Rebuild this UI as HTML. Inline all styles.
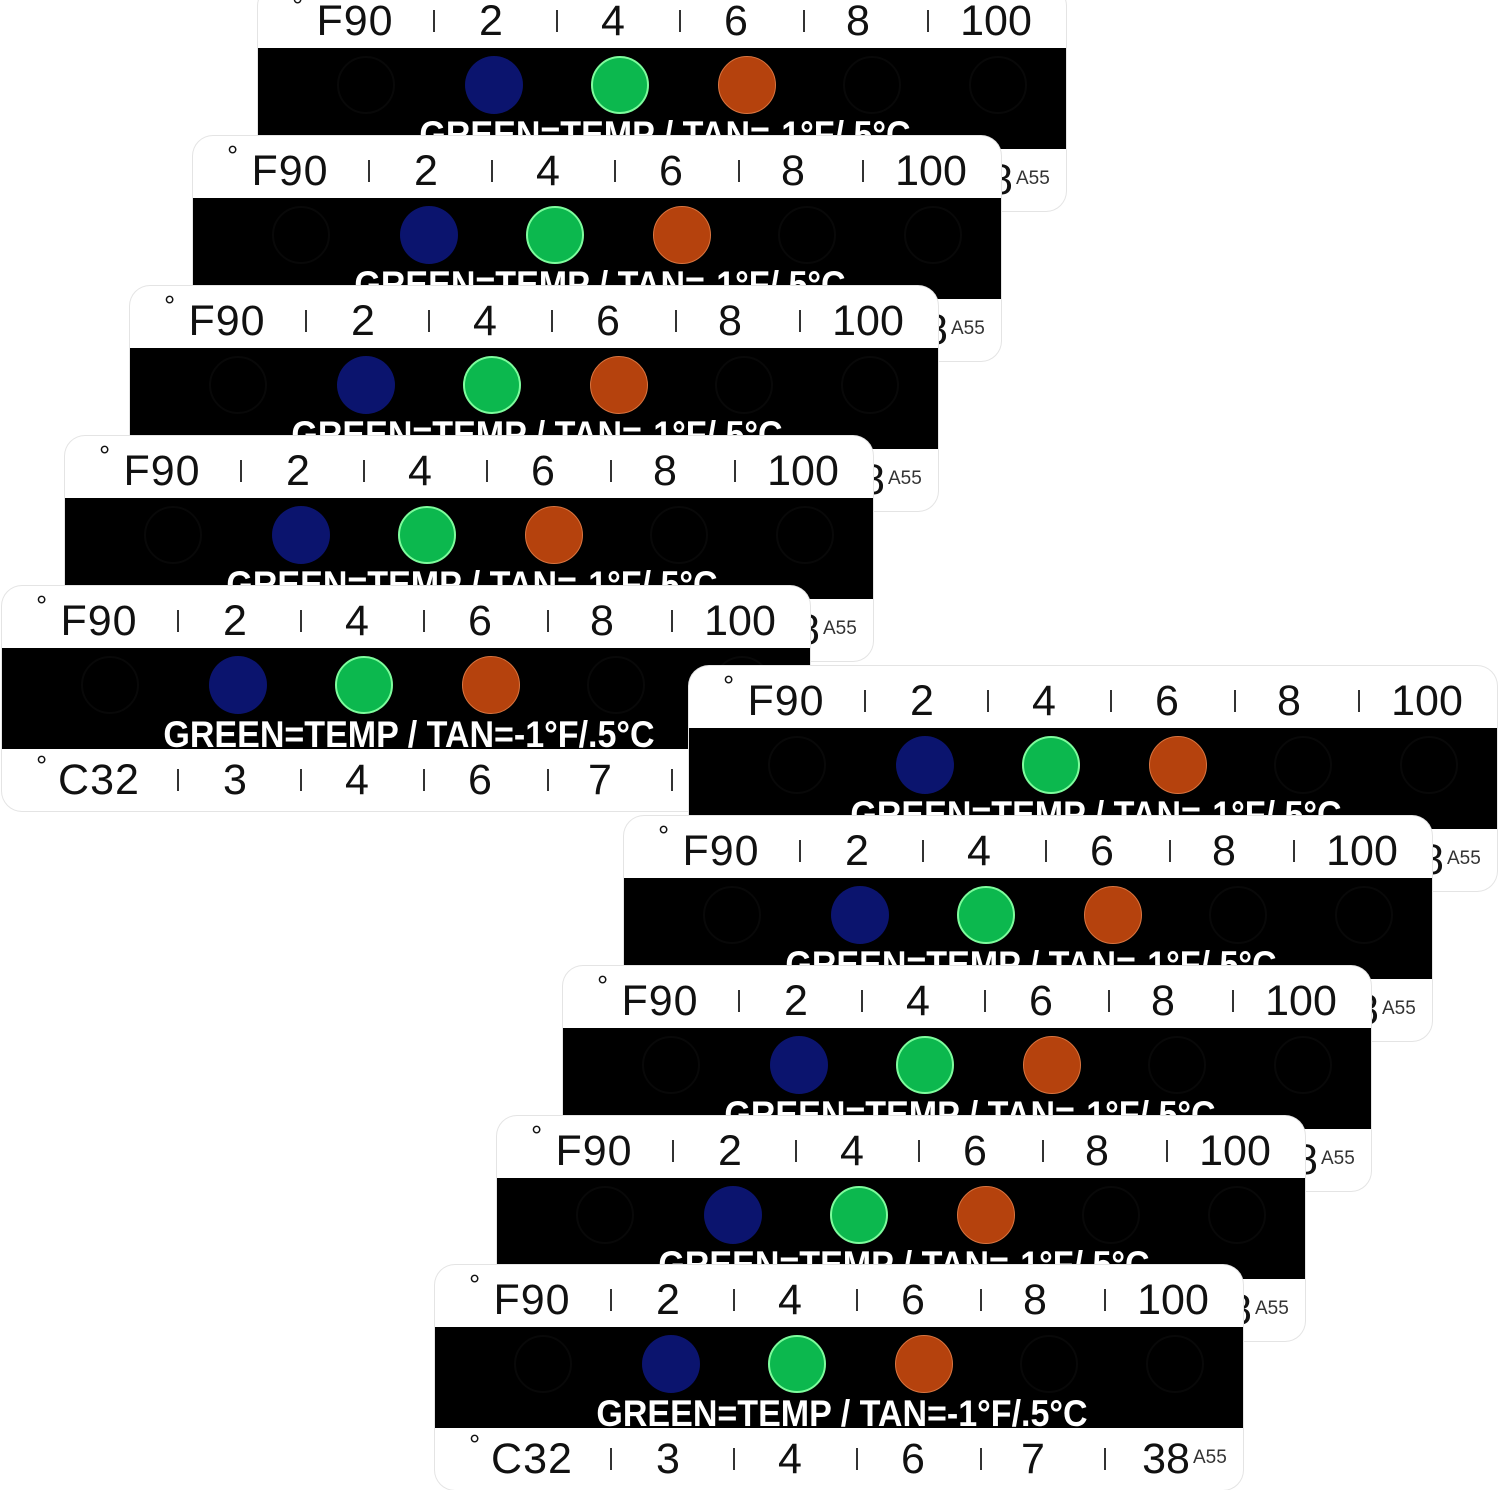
<!DOCTYPE html>
<html><head><meta charset="utf-8">
<style>
html,body{margin:0;padding:0;background:#fff;}
body{width:1500px;height:1490px;position:relative;overflow:hidden;font-family:"Liberation Sans",sans-serif;}
.card{position:absolute;width:808px;height:225px;background:#fff;border-radius:20px;box-shadow:0 0 0 1px #e4e4e4;overflow:hidden;}
.blk{position:absolute;left:0;top:62px;width:808px;height:101px;background:#000;}
.l{position:absolute;font-size:43px;color:#111;line-height:43px;transform:translateX(-50%);white-space:nowrap;}
.t{top:14px}.b{top:173px}
.w{letter-spacing:1px}
.deg{position:absolute;font-size:28px;color:#111;line-height:28px;}
.tick{position:absolute;width:2px;height:22px;background:#333;}
.c{position:absolute;width:58px;height:58px;border-radius:50%;top:8px;transform:translateX(-50%);box-sizing:border-box;}
.d{border:2px solid #080808;}
.bl{background:#0b146e;}
.gr{background:#0cb84e;border:2px solid #7dfc9c;}
.or{background:#b5420d;border:1px solid #d9743f;}
.msg{position:absolute;left:407px;top:68px;white-space:nowrap;color:#fff;font-weight:bold;font-size:37px;line-height:37px;transform:translateX(-50%) scaleX(0.92);}
.a55{position:absolute;left:758px;top:182px;font-size:19px;color:#333;}
</style></head><body>

<div class="card" style="left:258px;top:-14px">
<div class="deg" style="left:34px;top:6px">°</div><div class="l t w" style="left:97px">F90</div>
<div class="tick" style="left:175px;top:24px"></div><div class="l t" style="left:233px">2</div>
<div class="tick" style="left:298px;top:24px"></div><div class="l t" style="left:355px">4</div>
<div class="tick" style="left:421px;top:24px"></div><div class="l t" style="left:478px">6</div>
<div class="tick" style="left:545px;top:24px"></div><div class="l t" style="left:600px">8</div>
<div class="tick" style="left:669px;top:24px"></div><div class="l t" style="left:738px">100</div>
<div class="blk"><div class="c d" style="left:108px"></div><div class="c bl" style="left:236px"></div><div class="c gr" style="left:362px"></div><div class="c or" style="left:489px"></div><div class="c d" style="left:614px"></div><div class="c d" style="left:740px"></div><div class="msg">GREEN=TEMP / TAN=-1°F/.5°C</div></div>
<div class="deg" style="left:34px;top:166px">°</div><div class="l b w" style="left:97px">C32</div>
<div class="tick" style="left:175px;top:183px"></div><div class="l b" style="left:233px">3</div>
<div class="tick" style="left:298px;top:183px"></div><div class="l b" style="left:355px">4</div>
<div class="tick" style="left:421px;top:183px"></div><div class="l b" style="left:478px">6</div>
<div class="tick" style="left:545px;top:183px"></div><div class="l b" style="left:598px">7</div>
<div class="tick" style="left:669px;top:183px"></div><div class="l b" style="left:731px">38</div><div class="a55">A55</div>
</div>

<div class="card" style="left:193px;top:136px">
<div class="deg" style="left:34px;top:6px">°</div><div class="l t w" style="left:97px">F90</div>
<div class="tick" style="left:175px;top:24px"></div><div class="l t" style="left:233px">2</div>
<div class="tick" style="left:298px;top:24px"></div><div class="l t" style="left:355px">4</div>
<div class="tick" style="left:421px;top:24px"></div><div class="l t" style="left:478px">6</div>
<div class="tick" style="left:545px;top:24px"></div><div class="l t" style="left:600px">8</div>
<div class="tick" style="left:669px;top:24px"></div><div class="l t" style="left:738px">100</div>
<div class="blk"><div class="c d" style="left:108px"></div><div class="c bl" style="left:236px"></div><div class="c gr" style="left:362px"></div><div class="c or" style="left:489px"></div><div class="c d" style="left:614px"></div><div class="c d" style="left:740px"></div><div class="msg">GREEN=TEMP / TAN=-1°F/.5°C</div></div>
<div class="deg" style="left:34px;top:166px">°</div><div class="l b w" style="left:97px">C32</div>
<div class="tick" style="left:175px;top:183px"></div><div class="l b" style="left:233px">3</div>
<div class="tick" style="left:298px;top:183px"></div><div class="l b" style="left:355px">4</div>
<div class="tick" style="left:421px;top:183px"></div><div class="l b" style="left:478px">6</div>
<div class="tick" style="left:545px;top:183px"></div><div class="l b" style="left:598px">7</div>
<div class="tick" style="left:669px;top:183px"></div><div class="l b" style="left:731px">38</div><div class="a55">A55</div>
</div>

<div class="card" style="left:130px;top:286px">
<div class="deg" style="left:34px;top:6px">°</div><div class="l t w" style="left:97px">F90</div>
<div class="tick" style="left:175px;top:24px"></div><div class="l t" style="left:233px">2</div>
<div class="tick" style="left:298px;top:24px"></div><div class="l t" style="left:355px">4</div>
<div class="tick" style="left:421px;top:24px"></div><div class="l t" style="left:478px">6</div>
<div class="tick" style="left:545px;top:24px"></div><div class="l t" style="left:600px">8</div>
<div class="tick" style="left:669px;top:24px"></div><div class="l t" style="left:738px">100</div>
<div class="blk"><div class="c d" style="left:108px"></div><div class="c bl" style="left:236px"></div><div class="c gr" style="left:362px"></div><div class="c or" style="left:489px"></div><div class="c d" style="left:614px"></div><div class="c d" style="left:740px"></div><div class="msg">GREEN=TEMP / TAN=-1°F/.5°C</div></div>
<div class="deg" style="left:34px;top:166px">°</div><div class="l b w" style="left:97px">C32</div>
<div class="tick" style="left:175px;top:183px"></div><div class="l b" style="left:233px">3</div>
<div class="tick" style="left:298px;top:183px"></div><div class="l b" style="left:355px">4</div>
<div class="tick" style="left:421px;top:183px"></div><div class="l b" style="left:478px">6</div>
<div class="tick" style="left:545px;top:183px"></div><div class="l b" style="left:598px">7</div>
<div class="tick" style="left:669px;top:183px"></div><div class="l b" style="left:731px">38</div><div class="a55">A55</div>
</div>

<div class="card" style="left:65px;top:436px">
<div class="deg" style="left:34px;top:6px">°</div><div class="l t w" style="left:97px">F90</div>
<div class="tick" style="left:175px;top:24px"></div><div class="l t" style="left:233px">2</div>
<div class="tick" style="left:298px;top:24px"></div><div class="l t" style="left:355px">4</div>
<div class="tick" style="left:421px;top:24px"></div><div class="l t" style="left:478px">6</div>
<div class="tick" style="left:545px;top:24px"></div><div class="l t" style="left:600px">8</div>
<div class="tick" style="left:669px;top:24px"></div><div class="l t" style="left:738px">100</div>
<div class="blk"><div class="c d" style="left:108px"></div><div class="c bl" style="left:236px"></div><div class="c gr" style="left:362px"></div><div class="c or" style="left:489px"></div><div class="c d" style="left:614px"></div><div class="c d" style="left:740px"></div><div class="msg">GREEN=TEMP / TAN=-1°F/.5°C</div></div>
<div class="deg" style="left:34px;top:166px">°</div><div class="l b w" style="left:97px">C32</div>
<div class="tick" style="left:175px;top:183px"></div><div class="l b" style="left:233px">3</div>
<div class="tick" style="left:298px;top:183px"></div><div class="l b" style="left:355px">4</div>
<div class="tick" style="left:421px;top:183px"></div><div class="l b" style="left:478px">6</div>
<div class="tick" style="left:545px;top:183px"></div><div class="l b" style="left:598px">7</div>
<div class="tick" style="left:669px;top:183px"></div><div class="l b" style="left:731px">38</div><div class="a55">A55</div>
</div>

<div class="card" style="left:2px;top:586px">
<div class="deg" style="left:34px;top:6px">°</div><div class="l t w" style="left:97px">F90</div>
<div class="tick" style="left:175px;top:24px"></div><div class="l t" style="left:233px">2</div>
<div class="tick" style="left:298px;top:24px"></div><div class="l t" style="left:355px">4</div>
<div class="tick" style="left:421px;top:24px"></div><div class="l t" style="left:478px">6</div>
<div class="tick" style="left:545px;top:24px"></div><div class="l t" style="left:600px">8</div>
<div class="tick" style="left:669px;top:24px"></div><div class="l t" style="left:738px">100</div>
<div class="blk"><div class="c d" style="left:108px"></div><div class="c bl" style="left:236px"></div><div class="c gr" style="left:362px"></div><div class="c or" style="left:489px"></div><div class="c d" style="left:614px"></div><div class="c d" style="left:740px"></div><div class="msg">GREEN=TEMP / TAN=-1°F/.5°C</div></div>
<div class="deg" style="left:34px;top:166px">°</div><div class="l b w" style="left:97px">C32</div>
<div class="tick" style="left:175px;top:183px"></div><div class="l b" style="left:233px">3</div>
<div class="tick" style="left:298px;top:183px"></div><div class="l b" style="left:355px">4</div>
<div class="tick" style="left:421px;top:183px"></div><div class="l b" style="left:478px">6</div>
<div class="tick" style="left:545px;top:183px"></div><div class="l b" style="left:598px">7</div>
<div class="tick" style="left:669px;top:183px"></div><div class="l b" style="left:731px">38</div><div class="a55">A55</div>
</div>

<div class="card" style="left:689px;top:666px">
<div class="deg" style="left:34px;top:6px">°</div><div class="l t w" style="left:97px">F90</div>
<div class="tick" style="left:175px;top:24px"></div><div class="l t" style="left:233px">2</div>
<div class="tick" style="left:298px;top:24px"></div><div class="l t" style="left:355px">4</div>
<div class="tick" style="left:421px;top:24px"></div><div class="l t" style="left:478px">6</div>
<div class="tick" style="left:545px;top:24px"></div><div class="l t" style="left:600px">8</div>
<div class="tick" style="left:669px;top:24px"></div><div class="l t" style="left:738px">100</div>
<div class="blk"><div class="c d" style="left:108px"></div><div class="c bl" style="left:236px"></div><div class="c gr" style="left:362px"></div><div class="c or" style="left:489px"></div><div class="c d" style="left:614px"></div><div class="c d" style="left:740px"></div><div class="msg">GREEN=TEMP / TAN=-1°F/.5°C</div></div>
<div class="deg" style="left:34px;top:166px">°</div><div class="l b w" style="left:97px">C32</div>
<div class="tick" style="left:175px;top:183px"></div><div class="l b" style="left:233px">3</div>
<div class="tick" style="left:298px;top:183px"></div><div class="l b" style="left:355px">4</div>
<div class="tick" style="left:421px;top:183px"></div><div class="l b" style="left:478px">6</div>
<div class="tick" style="left:545px;top:183px"></div><div class="l b" style="left:598px">7</div>
<div class="tick" style="left:669px;top:183px"></div><div class="l b" style="left:731px">38</div><div class="a55">A55</div>
</div>

<div class="card" style="left:624px;top:816px">
<div class="deg" style="left:34px;top:6px">°</div><div class="l t w" style="left:97px">F90</div>
<div class="tick" style="left:175px;top:24px"></div><div class="l t" style="left:233px">2</div>
<div class="tick" style="left:298px;top:24px"></div><div class="l t" style="left:355px">4</div>
<div class="tick" style="left:421px;top:24px"></div><div class="l t" style="left:478px">6</div>
<div class="tick" style="left:545px;top:24px"></div><div class="l t" style="left:600px">8</div>
<div class="tick" style="left:669px;top:24px"></div><div class="l t" style="left:738px">100</div>
<div class="blk"><div class="c d" style="left:108px"></div><div class="c bl" style="left:236px"></div><div class="c gr" style="left:362px"></div><div class="c or" style="left:489px"></div><div class="c d" style="left:614px"></div><div class="c d" style="left:740px"></div><div class="msg">GREEN=TEMP / TAN=-1°F/.5°C</div></div>
<div class="deg" style="left:34px;top:166px">°</div><div class="l b w" style="left:97px">C32</div>
<div class="tick" style="left:175px;top:183px"></div><div class="l b" style="left:233px">3</div>
<div class="tick" style="left:298px;top:183px"></div><div class="l b" style="left:355px">4</div>
<div class="tick" style="left:421px;top:183px"></div><div class="l b" style="left:478px">6</div>
<div class="tick" style="left:545px;top:183px"></div><div class="l b" style="left:598px">7</div>
<div class="tick" style="left:669px;top:183px"></div><div class="l b" style="left:731px">38</div><div class="a55">A55</div>
</div>

<div class="card" style="left:563px;top:966px">
<div class="deg" style="left:34px;top:6px">°</div><div class="l t w" style="left:97px">F90</div>
<div class="tick" style="left:175px;top:24px"></div><div class="l t" style="left:233px">2</div>
<div class="tick" style="left:298px;top:24px"></div><div class="l t" style="left:355px">4</div>
<div class="tick" style="left:421px;top:24px"></div><div class="l t" style="left:478px">6</div>
<div class="tick" style="left:545px;top:24px"></div><div class="l t" style="left:600px">8</div>
<div class="tick" style="left:669px;top:24px"></div><div class="l t" style="left:738px">100</div>
<div class="blk"><div class="c d" style="left:108px"></div><div class="c bl" style="left:236px"></div><div class="c gr" style="left:362px"></div><div class="c or" style="left:489px"></div><div class="c d" style="left:614px"></div><div class="c d" style="left:740px"></div><div class="msg">GREEN=TEMP / TAN=-1°F/.5°C</div></div>
<div class="deg" style="left:34px;top:166px">°</div><div class="l b w" style="left:97px">C32</div>
<div class="tick" style="left:175px;top:183px"></div><div class="l b" style="left:233px">3</div>
<div class="tick" style="left:298px;top:183px"></div><div class="l b" style="left:355px">4</div>
<div class="tick" style="left:421px;top:183px"></div><div class="l b" style="left:478px">6</div>
<div class="tick" style="left:545px;top:183px"></div><div class="l b" style="left:598px">7</div>
<div class="tick" style="left:669px;top:183px"></div><div class="l b" style="left:731px">38</div><div class="a55">A55</div>
</div>

<div class="card" style="left:497px;top:1116px">
<div class="deg" style="left:34px;top:6px">°</div><div class="l t w" style="left:97px">F90</div>
<div class="tick" style="left:175px;top:24px"></div><div class="l t" style="left:233px">2</div>
<div class="tick" style="left:298px;top:24px"></div><div class="l t" style="left:355px">4</div>
<div class="tick" style="left:421px;top:24px"></div><div class="l t" style="left:478px">6</div>
<div class="tick" style="left:545px;top:24px"></div><div class="l t" style="left:600px">8</div>
<div class="tick" style="left:669px;top:24px"></div><div class="l t" style="left:738px">100</div>
<div class="blk"><div class="c d" style="left:108px"></div><div class="c bl" style="left:236px"></div><div class="c gr" style="left:362px"></div><div class="c or" style="left:489px"></div><div class="c d" style="left:614px"></div><div class="c d" style="left:740px"></div><div class="msg">GREEN=TEMP / TAN=-1°F/.5°C</div></div>
<div class="deg" style="left:34px;top:166px">°</div><div class="l b w" style="left:97px">C32</div>
<div class="tick" style="left:175px;top:183px"></div><div class="l b" style="left:233px">3</div>
<div class="tick" style="left:298px;top:183px"></div><div class="l b" style="left:355px">4</div>
<div class="tick" style="left:421px;top:183px"></div><div class="l b" style="left:478px">6</div>
<div class="tick" style="left:545px;top:183px"></div><div class="l b" style="left:598px">7</div>
<div class="tick" style="left:669px;top:183px"></div><div class="l b" style="left:731px">38</div><div class="a55">A55</div>
</div>

<div class="card" style="left:435px;top:1265px">
<div class="deg" style="left:34px;top:6px">°</div><div class="l t w" style="left:97px">F90</div>
<div class="tick" style="left:175px;top:24px"></div><div class="l t" style="left:233px">2</div>
<div class="tick" style="left:298px;top:24px"></div><div class="l t" style="left:355px">4</div>
<div class="tick" style="left:421px;top:24px"></div><div class="l t" style="left:478px">6</div>
<div class="tick" style="left:545px;top:24px"></div><div class="l t" style="left:600px">8</div>
<div class="tick" style="left:669px;top:24px"></div><div class="l t" style="left:738px">100</div>
<div class="blk"><div class="c d" style="left:108px"></div><div class="c bl" style="left:236px"></div><div class="c gr" style="left:362px"></div><div class="c or" style="left:489px"></div><div class="c d" style="left:614px"></div><div class="c d" style="left:740px"></div><div class="msg">GREEN=TEMP / TAN=-1°F/.5°C</div></div>
<div class="deg" style="left:34px;top:166px">°</div><div class="l b w" style="left:97px">C32</div>
<div class="tick" style="left:175px;top:183px"></div><div class="l b" style="left:233px">3</div>
<div class="tick" style="left:298px;top:183px"></div><div class="l b" style="left:355px">4</div>
<div class="tick" style="left:421px;top:183px"></div><div class="l b" style="left:478px">6</div>
<div class="tick" style="left:545px;top:183px"></div><div class="l b" style="left:598px">7</div>
<div class="tick" style="left:669px;top:183px"></div><div class="l b" style="left:731px">38</div><div class="a55">A55</div>
</div>

</body></html>
